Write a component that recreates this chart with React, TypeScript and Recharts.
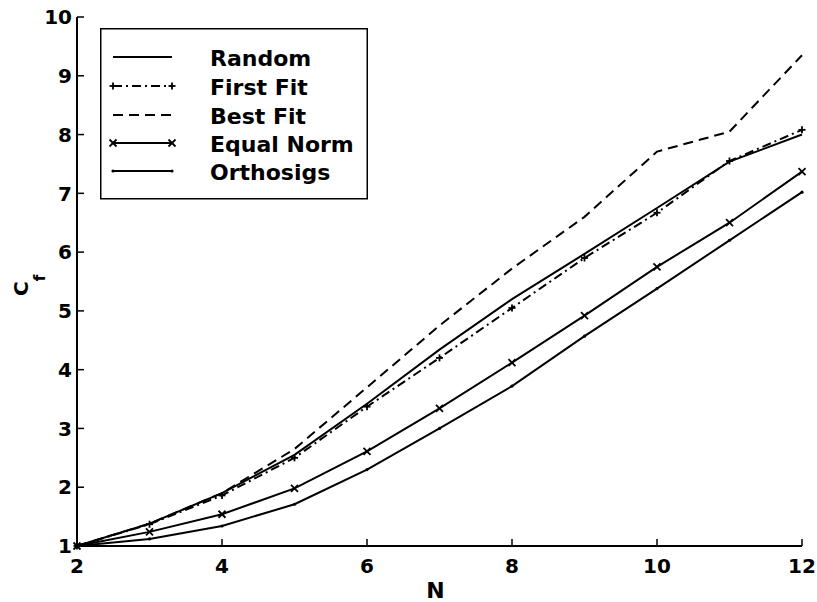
import { LineChart, Line, XAxis, YAxis, Legend } from 'recharts';

const nValues = [2, 3, 4, 5, 6, 7, 8, 9, 10, 11, 12];
const randomVals = [1.0, 1.38, 1.9, 2.55, 3.42, 4.34, 5.2, 5.97, 6.75, 7.54, 8.0];
const firstFitVals = [1.0, 1.37, 1.86, 2.5, 3.37, 4.2, 5.05, 5.9, 6.67, 7.55, 8.08];
const bestFitVals = [1.0, 1.38, 1.9, 2.65, 3.7, 4.75, 5.72, 6.6, 7.71, 8.05, 9.35];
const equalNormVals = [1.0, 1.24, 1.54, 1.98, 2.61, 3.34, 4.12, 4.92, 5.75, 6.5, 7.37];
const orthosigsVals = [1.0, 1.12, 1.34, 1.71, 2.3, 3.0, 3.72, 4.57, 5.38, 6.2, 7.02];

const xTicks = [2, 4, 6, 8, 10, 12];
const yTicks = [1, 2, 3, 4, 5, 6, 7, 8, 9, 10];

const data = nValues.map((n, i) => ({
  n,
  random: randomVals[i],
  firstFit: firstFitVals[i],
  bestFit: bestFitVals[i],
  equalNorm: equalNormVals[i],
  orthosigs: orthosigsVals[i],
}));

const FONT = '"DejaVu Sans", sans-serif';

type Marker = 'none' | 'plus' | 'x' | 'dot';

const series: { key: string; name: string; dash?: string; marker: Marker }[] = [
  { key: 'random', name: 'Random', marker: 'none' },
  { key: 'firstFit', name: 'First Fit', dash: '9 4 2 4', marker: 'plus' },
  { key: 'bestFit', name: 'Best Fit', dash: '10 6', marker: 'none' },
  { key: 'equalNorm', name: 'Equal Norm', marker: 'x' },
  { key: 'orthosigs', name: 'Orthosigs', marker: 'dot' },
];

function drawMarker(kind: Marker, cx: number, cy: number, key?: string) {
  const s = 3.5;
  if (kind === 'plus') {
    return (
      <g key={key}>
        <line x1={cx - s} x2={cx + s} y1={cy} y2={cy} stroke="#000" strokeWidth={1.8} />
        <line x1={cx} x2={cx} y1={cy - s} y2={cy + s} stroke="#000" strokeWidth={1.8} />
      </g>
    );
  }
  if (kind === 'x') {
    return (
      <g key={key}>
        <line x1={cx - s} x2={cx + s} y1={cy - s} y2={cy + s} stroke="#000" strokeWidth={1.8} />
        <line x1={cx - s} x2={cx + s} y1={cy + s} y2={cy - s} stroke="#000" strokeWidth={1.8} />
      </g>
    );
  }
  if (kind === 'dot') {
    return <circle key={key} cx={cx} cy={cy} r={1.6} fill="#000" />;
  }
  return <g key={key} />;
}

const makeDot = (kind: Marker) => (props: any) =>
  drawMarker(kind, props.cx, props.cy, `${kind}-${props.index}`);

const LeftTick = (props: any) => {
  const { x, y, payload } = props;
  return (
    <g>
      <line x1={x} x2={x + 7} y1={y} y2={y} stroke="#000" strokeWidth={1.5} />
      <text x={x - 5} y={y} dy="0.36em" textAnchor="end" fontFamily={FONT} fontWeight="bold" fontSize={20} fill="#000">
        {payload.value}
      </text>
    </g>
  );
};

const BottomTick = (props: any) => {
  const { x, y, payload } = props;
  return (
    <g>
      <line x1={x} x2={x} y1={y} y2={y - 7} stroke="#000" strokeWidth={1.5} />
      <text x={x} y={y + 27} textAnchor="middle" fontFamily={FONT} fontWeight="bold" fontSize={20} fill="#000">
        {payload.value}
      </text>
    </g>
  );
};

const TopTick = (props: any) => (
  <line x1={props.x} x2={props.x} y1={props.y} y2={props.y + 7} stroke="#000" strokeWidth={1.5} />
);

const RightTick = (props: any) => (
  <line x1={props.x} x2={props.x - 7} y1={props.y} y2={props.y} stroke="#000" strokeWidth={1.5} />
);

const YLabel = () => (
  <text x={28} y={296} transform="rotate(-90 28 296)" fontFamily={FONT} fontWeight="bold" fontSize={20} fill="#000">
    C
    <tspan fontSize={15} dy={17}>
      f
    </tspan>
  </text>
);

const XLabel = (props: any) => {
  const vb = props.viewBox;
  return (
    <text x={vb.x + vb.width / 2 - 4} y={598} textAnchor="middle" fontFamily={FONT} fontWeight="bold" fontSize={22} fill="#000">
      N
    </text>
  );
};

const LegendBox = () => {
  const rowY = [29, 58, 87, 115, 143];
  return (
    <svg width={268} height={172} style={{ overflow: 'visible', display: 'block' }}>
      <rect x={0.75} y={0.75} width={266.5} height={170} fill="#fff" stroke="#000" strokeWidth={1.5} />
      {series.map((s, i) => (
        <g key={s.key}>
          <line x1={13} x2={72} y1={rowY[i]} y2={rowY[i]} stroke="#000" strokeWidth={2} strokeDasharray={s.dash} />
          {drawMarker(s.marker, 13, rowY[i], `a${i}`)}
          {drawMarker(s.marker, 72, rowY[i], `b${i}`)}
          <text x={110} y={rowY[i] + 9} fontFamily={FONT} fontWeight="bold" fontSize={22} fill="#000">
            {s.name}
          </text>
        </g>
      ))}
    </svg>
  );
};

export default function App() {
  return (
    <div style={{ position: 'absolute', left: 0, top: 0, width: 817, height: 602, background: '#fff' }}>
      <LineChart width={817} height={602} data={data} margin={{ top: 17, right: 15, bottom: 16, left: 0 }}>
        <XAxis
          dataKey="n"
          type="number"
          domain={[2, 12]}
          ticks={xTicks}
          height={40}
          tickLine={false}
          tickSize={0}
          tickMargin={0}
          tick={<BottomTick />}
          axisLine={{ stroke: '#000', strokeWidth: 2 }}
          label={<XLabel />}
        />
        <XAxis
          xAxisId="top"
          orientation="top"
          dataKey="n"
          type="number"
          domain={[2, 12]}
          ticks={xTicks}
          height={0}
          tickLine={false}
          tickSize={0}
          tickMargin={0}
          tick={<TopTick />}
          axisLine={{ stroke: '#000', strokeWidth: 2 }}
        />
        <YAxis
          type="number"
          domain={[1, 10]}
          ticks={yTicks}
          width={77}
          tickLine={false}
          tickSize={0}
          tickMargin={0}
          tick={<LeftTick />}
          axisLine={{ stroke: '#000', strokeWidth: 2 }}
          label={<YLabel />}
        />
        <YAxis
          yAxisId="right"
          orientation="right"
          type="number"
          domain={[1, 10]}
          ticks={yTicks}
          width={0}
          tickLine={false}
          tickSize={0}
          tickMargin={0}
          tick={<RightTick />}
          axisLine={{ stroke: '#000', strokeWidth: 2 }}
        />
        <Legend
          layout="horizontal"
          verticalAlign="middle"
          align="center"
          wrapperStyle={{ left: 100, top: 28, width: 268, height: 172 }}
          content={<LegendBox />}
        />
        {series.map((s) => (
          <Line
            key={s.key}
            type="linear"
            dataKey={s.key}
            name={s.name}
            stroke="#000"
            strokeWidth={2}
            strokeDasharray={s.dash}
            dot={s.marker === 'none' ? false : makeDot(s.marker)}
            activeDot={false}
            isAnimationActive={false}
          />
        ))}
      </LineChart>
    </div>
  );
}
